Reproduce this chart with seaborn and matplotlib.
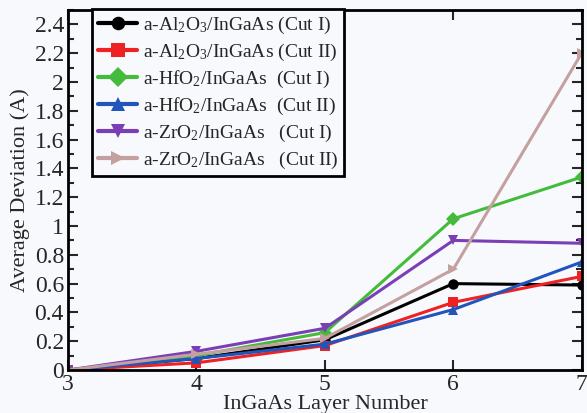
import matplotlib
matplotlib.use("Agg")
import matplotlib.pyplot as plt
import seaborn as sns
import pandas as pd
from matplotlib.ticker import MultipleLocator, FuncFormatter

layers = [3, 4, 5, 6, 7]
al2o3_cut1 = [0.0, 0.08, 0.21, 0.60, 0.59]
al2o3_cut2 = [0.0, 0.05, 0.17, 0.47, 0.65]
hfo2_cut1 = [0.0, 0.10, 0.26, 1.05, 1.34]
hfo2_cut2 = [0.0, 0.08, 0.18, 0.42, 0.75]
zro2_cut1 = [0.0, 0.13, 0.29, 0.90, 0.88]
zro2_cut2 = [0.0, 0.11, 0.22, 0.70, 2.20]

labels = [
    r"a-Al$_2$O$_3$/InGaAs (Cut I)",
    r"a-Al$_2$O$_3$/InGaAs (Cut II)",
    r"a-HfO$_2$/InGaAs  (Cut I)",
    r"a-HfO$_2$/InGaAs  (Cut II)",
    r"a-ZrO$_2$/InGaAs   (Cut I)",
    r"a-ZrO$_2$/InGaAs   (Cut II)",
]
series = [al2o3_cut1, al2o3_cut2, hfo2_cut1, hfo2_cut2, zro2_cut1, zro2_cut2]
colors = ["#000000", "#ee2222", "#44bb3a", "#2255bb", "#7a3fb5", "#c4a0a0"]
markers = ["o", "s", "D", "^", "v", ">"]

rows = []
for lab, vals in zip(labels, series):
    for x, y in zip(layers, vals):
        rows.append({"layer": x, "dev": y, "series": lab})
df = pd.DataFrame(rows)

sns.set_style("ticks")
plt.rcParams["font.family"] = ["Liberation Serif", "DejaVu Serif"]
plt.rcParams["mathtext.fontset"] = "custom"
plt.rcParams["mathtext.rm"] = "Liberation Serif"
plt.rcParams["mathtext.it"] = "Liberation Serif:italic"

fig = plt.figure(figsize=(5.87, 4.13), dpi=100)
fig.patch.set_facecolor("#f8f9fd")
ax = fig.add_axes([0.116, 0.104, 0.875, 0.872])
ax.set_facecolor("#f8f9fd")

sns.lineplot(data=df, x="layer", y="dev", hue="series", style="series",
             palette=dict(zip(labels, colors)), markers=dict(zip(labels, markers)),
             dashes=False, linewidth=2.2, markersize=7.5, markeredgewidth=0,
             ax=ax)

ax.set_xlim(3, 7)
ax.set_ylim(0, 2.5)
ax.xaxis.set_major_locator(MultipleLocator(1))
ax.yaxis.set_major_locator(MultipleLocator(0.2))
ax.yaxis.set_minor_locator(MultipleLocator(0.1))
ax.yaxis.set_major_formatter(FuncFormatter(lambda v, p: "%g" % round(v, 2)))
ax.tick_params(axis="both", which="both", direction="in", top=True, right=True,
               labelsize=17, width=1.5)
ax.tick_params(axis="both", which="major", length=7)
ax.tick_params(axis="both", which="minor", length=4)
ax.tick_params(axis="x", pad=3)
ax.tick_params(axis="y", pad=3)
for s in ax.spines.values():
    s.set_linewidth(2)
    s.set_color("black")

ax.set_xlabel("InGaAs Layer Number", fontsize=16, labelpad=0)
ax.set_ylabel("Average Deviation (A)", fontsize=16, labelpad=3)

leg = ax.legend(loc="upper left", bbox_to_anchor=(0.047, 1.003), fontsize=14,
                frameon=True, fancybox=False, handlelength=2.0, markerscale=1.3,
                borderpad=0.3, labelspacing=0.3, handletextpad=0.3,
                borderaxespad=0)
leg.get_frame().set_edgecolor("black")
leg.get_frame().set_linewidth(2)
leg.get_frame().set_facecolor("#f8f9fd")
leg.get_frame().set_alpha(1)
for line in leg.get_lines():
    line.set_linewidth(3)

fig.savefig("out.png", dpi=100, facecolor=fig.get_facecolor())
